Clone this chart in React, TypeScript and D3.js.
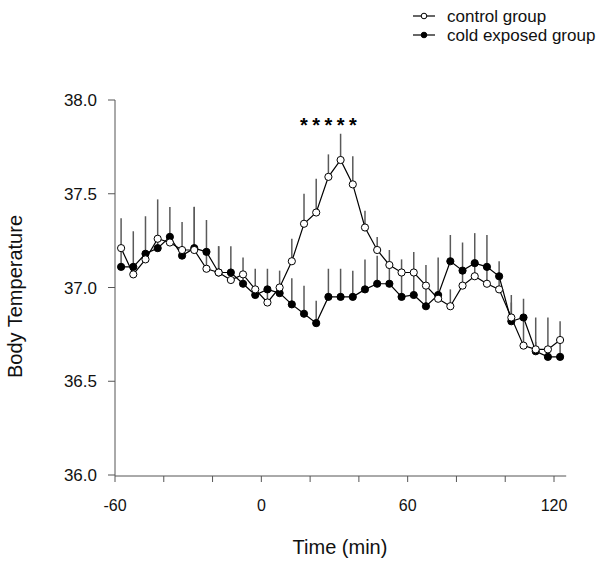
import React from "react";
import * as d3 from "d3";

// time points (min)
const times = [
  -57.5, -52.5, -47.5, -42.5, -37.5, -32.5, -27.5, -22.5, -17.5, -12.5, -7.5, -2.5,
  2.5, 7.5, 12.5, 17.5, 22.5, 27.5, 32.5, 37.5, 42.5, 47.5, 52.5, 57.5, 62.5, 67.5,
  72.5, 77.5, 82.5, 87.5, 92.5, 97.5, 102.5, 107.5, 112.5, 117.5, 122.5,
];

const controlMean = [
  37.21, 37.07, 37.15, 37.26, 37.24, 37.2, 37.2, 37.1, 37.08, 37.04, 37.07, 36.99,
  36.92, 37.0, 37.14, 37.34, 37.4, 37.59, 37.68, 37.55, 37.32, 37.2, 37.12, 37.08,
  37.08, 37.01, 36.94, 36.9, 37.01, 37.06, 37.02, 36.99, 36.84, 36.69, 36.67, 36.67,
  36.72,
];
const controlSem = [
  0.16, 0.04, 0.03, 0.21, 0.03, 0.15, 0.23, 0.09, 0.14, 0.04, 0.09, 0.11,
  0.07, 0.09, 0.12, 0.16, 0.18, 0.12, 0.14, 0.15, 0.09, 0.07, 0.08, 0.07,
  0.11, 0.11, 0.02, 0.09, 0.08, 0.07, 0.09, 0.07, 0.12, 0.15, 0.17, 0.17,
  0.1,
];

const coldMean = [
  37.11, 37.11, 37.18, 37.21, 37.27, 37.17, 37.21, 37.19, 37.08, 37.08, 37.02, 36.96,
  36.99, 36.97, 36.91, 36.86, 36.81, 36.95, 36.95, 36.95, 36.99, 37.02, 37.02, 36.95,
  36.96, 36.9, 36.96, 37.14, 37.09, 37.13, 37.11, 37.06, 36.82, 36.84, 36.66, 36.63,
  36.63,
];
const coldSem = [
  0.1, 0.19, 0.2, 0.05, 0.16, 0.03, 0.22, 0.17, 0.14, 0.14, 0.05, 0.03,
  0.11, 0.03, 0.14, 0.15, 0.12, 0.15, 0.15, 0.14, 0.16, 0.15, 0.1, 0.13,
  0.12, 0.11, 0.2, 0.14, 0.15, 0.16, 0.17, 0.08, 0.1, 0.1, 0.05, 0.04,
  0.09,
];

const significantTimes = [17.5, 22.5, 27.5, 32.5, 37.5];

const xTicks = [-60, -40, -20, 0, 20, 40, 60, 80, 100, 120];
const xTickLabels = ["-60", "", "", "0", "", "", "60", "", "", "120"];
const yTicks = [36.0, 36.5, 37.0, 37.5, 38.0];
const yTickLabels = ["36.0", "36.5", "37.0", "37.5", "38.0"];

const legendLabels = ["control group", "cold exposed group"];

const FONT = "Liberation Sans, Arial, sans-serif";

export default function App() {
  const W = 600;
  const H = 566;
  const x = d3.scaleLinear().domain([-60, 120]).range([115, 554]);
  const y = d3.scaleLinear().domain([36, 38]).range([475, 100]);
  const xEnd = x(125);

  const control = times.map((t, i) => ({ t, m: controlMean[i], e: controlSem[i] }));
  const cold = times.map((t, i) => ({ t, m: coldMean[i], e: coldSem[i] }));

  const line = d3
    .line<{ t: number; m: number }>()
    .x((d) => x(d.t))
    .y((d) => y(d.m));

  const errColor = "#5a5a5a";
  const axisColor = "#555";

  return (
    <svg
      width={W}
      height={H}
      style={{ position: "absolute", left: 0, top: 0, background: "#fff" }}
      fontFamily={FONT}
    >
      <rect x={0} y={0} width={W} height={H} fill="#fff" />

      {/* axes */}
      <line x1={x(-60)} x2={x(-60)} y1={y(38)} y2={y(36) + 1} stroke={axisColor} strokeWidth={1} />
      <line x1={x(-60)} x2={xEnd} y1={y(36) + 1} y2={y(36) + 1} stroke={axisColor} strokeWidth={1} />
      {yTicks.map((v, i) => (
        <g key={"yt" + i}>
          <line x1={x(-60) - 7} x2={x(-60)} y1={y(v)} y2={y(v)} stroke={axisColor} />
          <text
            x={x(-60) - 18}
            y={y(v)}
            dy="0.36em"
            textAnchor="end"
            fontSize={17}
            fill="#111"
          >
            {yTickLabels[i]}
          </text>
        </g>
      ))}
      {xTicks.map((v, i) => (
        <g key={"xt" + i}>
          <line x1={x(v)} x2={x(v)} y1={y(36) + 1} y2={y(36) + 7} stroke={axisColor} />
          {xTickLabels[i] && (
            <text x={x(v)} y={511} textAnchor="middle" fontSize={16} fill="#111">
              {xTickLabels[i]}
            </text>
          )}
        </g>
      ))}

      {/* axis titles */}
      <text x={340} y={554} textAnchor="middle" fontSize={20} fill="#111">
        Time (min)
      </text>
      <text
        transform={`translate(22, 296.5) rotate(-90)`}
        textAnchor="middle"
        fontSize={20}
        fill="#111"
      >
        Body Temperature
      </text>

      {/* error bars */}
      {cold.map((d, i) => (
        <line
          key={"ce" + i}
          x1={x(d.t)}
          x2={x(d.t)}
          y1={y(d.m)}
          y2={y(d.m + d.e)}
          stroke={errColor}
          strokeWidth={1.5}
        />
      ))}
      {control.map((d, i) => (
        <line
          key={"ke" + i}
          x1={x(d.t)}
          x2={x(d.t)}
          y1={y(d.m)}
          y2={y(d.m + d.e)}
          stroke={errColor}
          strokeWidth={1.5}
        />
      ))}

      {/* lines */}
      <path d={line(cold) || ""} fill="none" stroke="#000" strokeWidth={1.2} />
      {cold.map((d, i) => (
        <circle key={"cc" + i} cx={x(d.t)} cy={y(d.m)} r={3.6} fill="#000" stroke="#000" />
      ))}
      <path d={line(control) || ""} fill="none" stroke="#000" strokeWidth={1.2} />
      {control.map((d, i) => (
        <circle key={"kc" + i} cx={x(d.t)} cy={y(d.m)} r={3.6} fill="#fff" stroke="#000" strokeWidth={1} />
      ))}

      {/* significance */}
      {significantTimes.map((t, i) => (
        <text
          key={"s" + i}
          x={x(t)}
          y={132}
          textAnchor="middle"
          fontSize={20}
          fontWeight="bold"
          fill="#000"
        >
          *
        </text>
      ))}

      {/* legend */}
      {legendLabels.map((lab, i) => {
        const cy = 16 + i * 19;
        return (
          <g key={"lg" + i}>
            <line x1={413} x2={435} y1={cy} y2={cy} stroke="#000" strokeWidth={1.2} />
            <circle cx={424} cy={cy} r={2.8} fill={i === 0 ? "#fff" : "#000"} stroke="#000" />
            <text x={447} y={cy} dy="0.36em" fontSize={17} fill="#111">
              {lab}
            </text>
          </g>
        );
      })}
    </svg>
  );
}
